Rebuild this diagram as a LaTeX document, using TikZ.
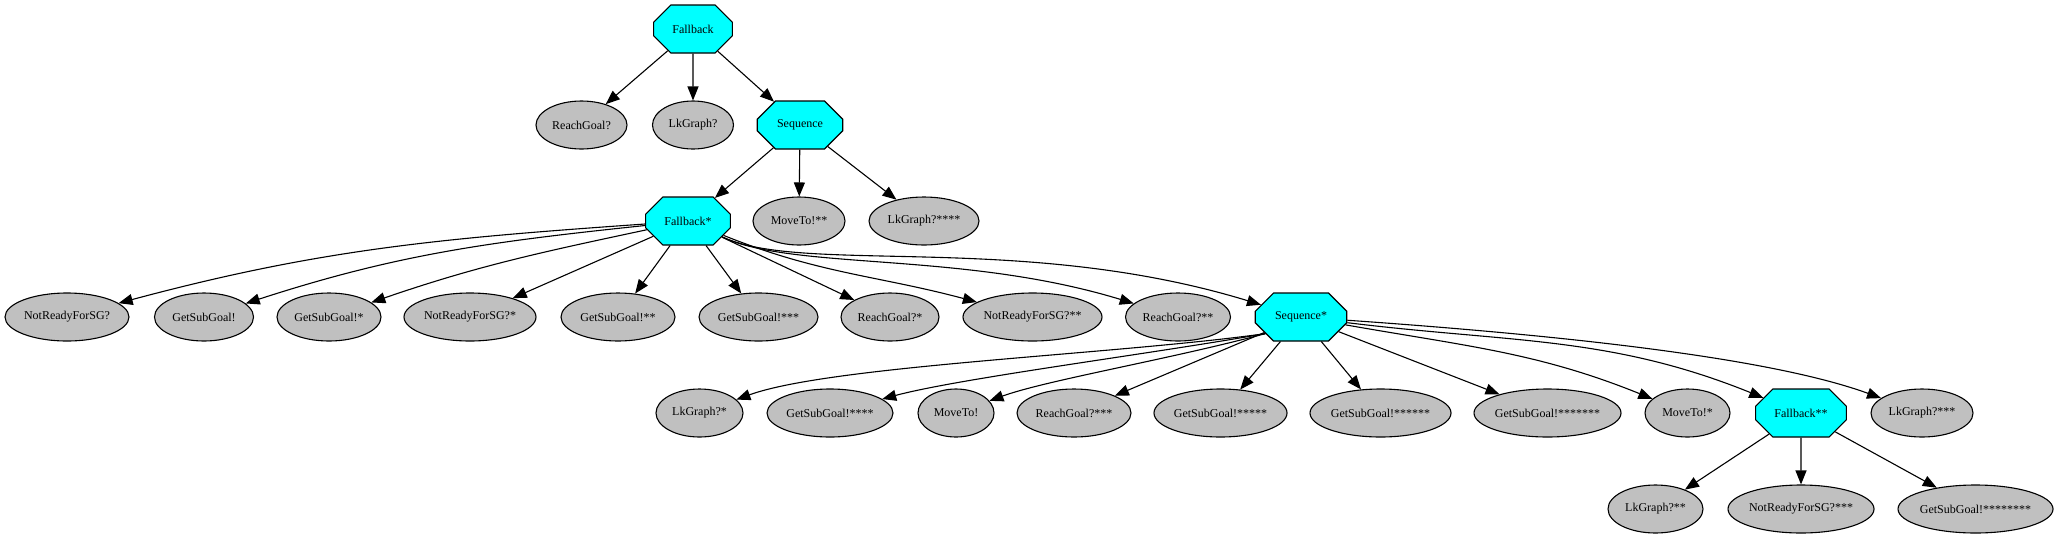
\documentclass[tikz,border=0pt]{standalone}
\usepackage{fontspec}
\setmainfont{Liberation Serif}
\usetikzlibrary{shapes.geometric,shapes.misc,arrows.meta}
\definecolor{leafgray}{RGB}{192,192,192}
\definecolor{ctrlcyan}{RGB}{0,255,255}
\tikzset{
  ctrl/.style={chamfered rectangle, chamfered rectangle xsep=25pt,
    chamfered rectangle ysep=13pt, draw=black, fill=ctrlcyan, line width=1.1pt,
    minimum height=48pt, inner xsep=14.5pt, inner ysep=0pt,
    font=\fontsize{12}{14}\selectfont},
  leaf/.style={ellipse, draw=black, fill=leafgray, line width=1.1pt,
    minimum height=48pt, inner xsep=-12pt, inner ysep=0pt,
    font=\fontsize{12}{14}\selectfont},
  edge/.style={line width=1.1pt, -{Triangle[length=14pt,width=11pt]}}
}
\begin{document}
\begin{tikzpicture}[x=1pt,y=1pt]
  \useasboundingbox (0,0) rectangle (2058,-539);

  %% top
  \node[ctrl] (fb0) at (693,-29) {Fallback};
  \node[leaf, minimum width=91] (rg0) at (581.5,-125) {ReachGoal?};
  \node[leaf, minimum width=81] (lg0) at (693,-125) {LkGraph?};
  \node[ctrl] (sq0) at (800,-125) {Sequence};
  \node[ctrl] (fb1) at (688,-221) {Fallback*};
  \node[leaf, minimum width=92] (mv2) at (799,-221) {MoveTo!**};
  \node[leaf, minimum width=110] (lg4) at (924,-221) {LkGraph?****};

  %% children of Fallback*
  \node[leaf, minimum width=124] (nr0) at (67,-317) {NotReadyForSG?};
  \node[leaf, minimum width=99] (gs0) at (204,-317) {GetSubGoal!};
  \node[leaf, minimum width=104] (gs1) at (329,-317) {GetSubGoal!*};
  \node[leaf, minimum width=132] (nr1) at (470,-317) {NotReadyForSG?*};
  \node[leaf, minimum width=114] (gs2) at (618,-317) {GetSubGoal!**};
  \node[leaf, minimum width=119] (gs3) at (758.5,-317) {GetSubGoal!***};
  \node[leaf, minimum width=98] (rg1) at (890,-317) {ReachGoal?*};
  \node[leaf, minimum width=139] (nr2) at (1032.5,-317) {NotReadyForSG?**};
  \node[leaf, minimum width=105] (rg2) at (1178,-317) {ReachGoal?**};
  \node[ctrl] (sq1) at (1301,-317) {Sequence*};

  %% children of Sequence*
  \node[leaf, minimum width=87] (lg1) at (699.5,-413) {LkGraph?*};
  \node[leaf, minimum width=126] (gs4) at (830,-413) {GetSubGoal!****};
  \node[leaf, minimum width=76] (mv0) at (956,-413) {MoveTo!};
  \node[leaf, minimum width=114] (rg3) at (1074,-413) {ReachGoal?***};
  \node[leaf, minimum width=133] (gs5) at (1220.5,-413) {GetSubGoal!*****};
  \node[leaf, minimum width=141] (gs6) at (1380.5,-413) {GetSubGoal!******};
  \node[leaf, minimum width=147] (gs7) at (1547.5,-413) {GetSubGoal!*******};
  \node[leaf, minimum width=85] (mv1) at (1687.5,-413) {MoveTo!*};
  \node[ctrl] (fb2) at (1801,-413) {Fallback**};
  \node[leaf, minimum width=102] (lg3) at (1922,-413) {LkGraph?***};

  %% children of Fallback**
  \node[leaf, minimum width=95] (lg2) at (1655.5,-509) {LkGraph?**};
  \node[leaf, minimum width=146] (nr3) at (1801,-509) {NotReadyForSG?***};
  \node[leaf, minimum width=155] (gs8) at (1975.5,-509) {GetSubGoal!********};

  %% edges
  \draw[edge] (fb0) -- (rg0);
  \draw[edge] (fb0) -- (lg0);
  \draw[edge] (fb0) -- (sq0);
  \draw[edge] (sq0) -- (fb1);
  \draw[edge] (sq0) -- (mv2);
  \draw[edge] (sq0) -- (lg4);

  \draw[edge] (fb1) to[out=184,in=15] (nr0);
  \draw[edge] (fb1) to[out=186,in=18] (gs0);
  \draw[edge] (fb1) to[out=192,in=19] (gs1);
  \draw[edge] (fb1) -- (nr1);
  \draw[edge] (fb1) -- (gs2);
  \draw[edge] (fb1) -- (gs3);
  \draw[edge] (fb1) -- (rg1);
  \draw[edge] (fb1) to[out=-22,in=165] (nr2);
  \draw[edge] (fb1) to[out=-25,in=163,out distance=80pt,in distance=180pt] (rg2);
  \draw[edge] (fb1) to[out=-25,in=163,out distance=90pt,in distance=250pt] (sq1);

  \draw[edge] (sq1.205) to[out=188,in=20,out distance=150pt,in distance=100pt] (lg1);
  \draw[edge] (sq1.205) to[out=190,in=15,out distance=120pt,in distance=80pt] (gs4);
  \draw[edge] (sq1.205) to[out=195,in=20,out distance=100pt,in distance=60pt] (mv0);
  \draw[edge] (sq1) -- (rg3);
  \draw[edge] (sq1) -- (gs5);
  \draw[edge] (sq1) -- (gs6);
  \draw[edge] (sq1) -- (gs7);
  \draw[edge] (sq1) to[out=-10,in=158] (mv1);
  \draw[edge] (sq1) to[out=-7,in=158] (fb2);
  \draw[edge] (sq1) to[out=-4,in=160,in distance=120pt] (lg3);

  \draw[edge] (fb2) -- (lg2);
  \draw[edge] (fb2) -- (nr3);
  \draw[edge] (fb2) -- (gs8);
\end{tikzpicture}
\end{document}
